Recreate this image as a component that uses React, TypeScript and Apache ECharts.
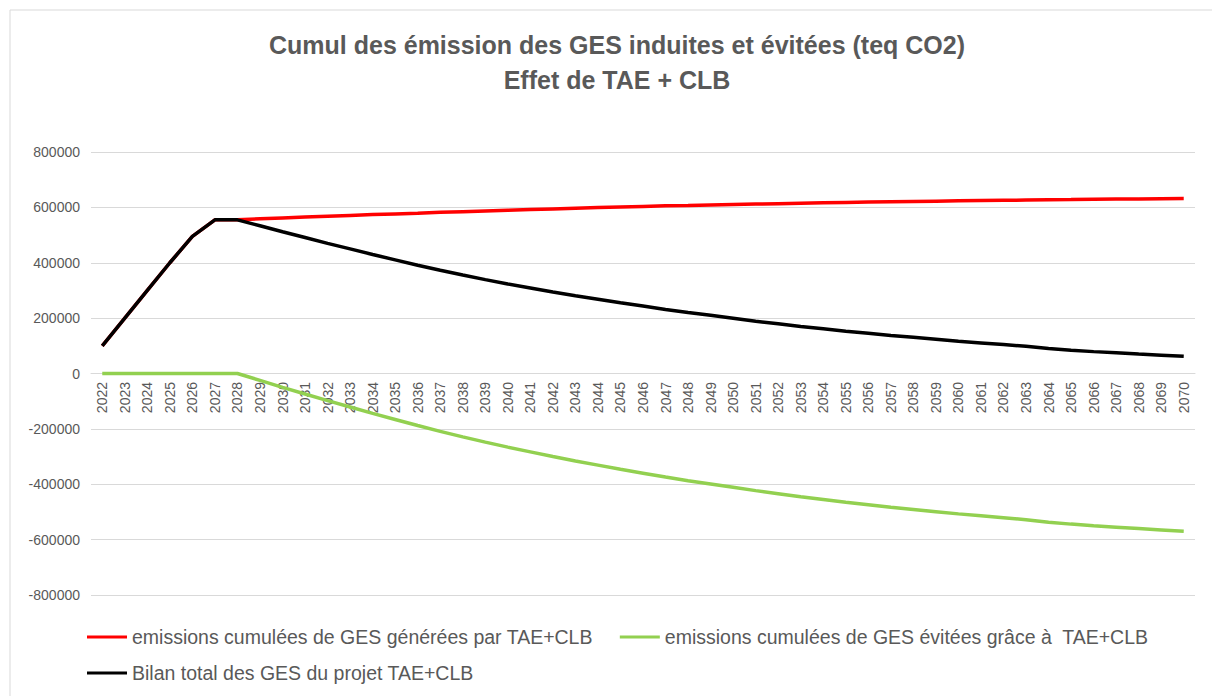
import React, { useEffect, useRef } from "react";
import * as echarts from "echarts";

const years: string[] = [
  "2022","2023","2024","2025","2026","2027","2028","2029","2030","2031",
  "2032","2033","2034","2035","2036","2037","2038","2039","2040","2041",
  "2042","2043","2044","2045","2046","2047","2048","2049","2050","2051",
  "2052","2053","2054","2055","2056","2057","2058","2059","2060","2061",
  "2062","2063","2064","2065","2066","2067","2068","2069","2070",
];

const generated: number[] = [
  100000, 200000, 300000, 400000, 495000, 555000, 555000, 558500, 562000, 565000,
  568000, 571000, 574000, 576500, 579000, 582000, 584500, 587000, 589500, 592000,
  594500, 597000, 599500, 601500, 603500, 605500, 607000, 609000, 610500, 612000,
  613500, 615000, 616500, 618000, 619500, 620500, 621500, 622500, 623500, 624500,
  625500, 626500, 627300, 628100, 629000, 629800, 630500, 631300, 632000,
];

const avoided: number[] = [
  0, 0, 0, 0, 0, 0, 0, -25000, -50000, -74000,
  -98000, -121000, -144000, -166000, -188000, -209000, -229000, -248000, -266000, -283000,
  -300000, -316000, -331000, -346000, -360000, -374000, -387000, -399000, -411000, -423000,
  -434000, -445000, -455000, -465000, -474000, -483000, -491000, -499000, -507000, -514000,
  -521000, -528000, -537000, -544000, -550000, -555000, -560000, -565000, -570000,
];

const balance: number[] = [
  100000, 200000, 300000, 400000, 495000, 555000, 555000, 533500, 512000, 491000,
  470000, 450000, 430000, 410500, 391000, 373000, 355500, 339000, 323500, 309000,
  294500, 281000, 268500, 255500, 243500, 231500, 220000, 210000, 199500, 189000,
  179500, 170000, 161500, 153000, 145500, 137500, 130500, 123500, 116500, 110500,
  104500, 98500, 90300, 84100, 79000, 74800, 70500, 66300, 62000,
];

const seriesNames: string[] = [
  "emissions cumulées de GES générées par TAE+CLB",
  "emissions cumulées de GES évitées grâce à  TAE+CLB",
  "Bilan total des GES du projet TAE+CLB",
];

const titleLines: string[] = [
  "Cumul des émission des GES induites et évitées (teq CO2)",
  "Effet de TAE + CLB",
];

const FONT = "Liberation Sans, Arial, sans-serif";
const GREY_TEXT = "#595959";
const GRID_LINE = "#D9D9D9";

export default function App() {
  const ref = useRef<HTMLDivElement>(null);

  useEffect(() => {
    if (!ref.current) return;
    const chart = echarts.init(ref.current, undefined, { renderer: "svg" });
    const legendText = { color: GREY_TEXT, fontSize: 19.5, fontFamily: FONT };
    chart.setOption({
      animation: false,
      backgroundColor: "#ffffff",
      title: {
        text: titleLines.join("\n"),
        left: 612,
        textAlign: "center",
        top: 22,
        textStyle: {
          color: GREY_TEXT,
          fontSize: 25,
          fontWeight: "bold",
          fontFamily: FONT,
          lineHeight: 35,
        },
      },
      graphic: [
        {
          type: "rect",
          shape: { x: 10, y: 10, width: 1220, height: 700 },
          style: { fill: "none", stroke: GRID_LINE, lineWidth: 1 },
          silent: true,
        },
      ],
      legend: [
        {
          data: [seriesNames[0], seriesNames[1]],
          left: 82,
          top: 622,
          itemWidth: 40,
          itemHeight: 3,
          itemGap: 27,
          icon: "rect",
          textStyle: legendText,
        },
        {
          data: [seriesNames[2]],
          left: 82,
          top: 658,
          itemWidth: 40,
          itemHeight: 3,
          icon: "rect",
          textStyle: legendText,
        },
      ],
      grid: { left: 91, right: 17, top: 152, bottom: 101, containLabel: false },
      xAxis: {
        type: "category",
        data: years,
        boundaryGap: true,
        position: "bottom",
        offset: -222,
        axisLine: { onZero: false, lineStyle: { color: GRID_LINE, width: 1 } },
        axisTick: { show: false },
        axisLabel: {
          interval: 0,
          rotate: 90,
          color: GREY_TEXT,
          fontSize: 14,
          fontFamily: FONT,
          margin: 9,
        },
        splitLine: { show: false },
      },
      yAxis: {
        type: "value",
        min: -800000,
        max: 800000,
        interval: 200000,
        axisLine: { show: false },
        axisTick: { show: false },
        axisLabel: {
          color: GREY_TEXT,
          fontSize: 14,
          fontFamily: FONT,
          margin: 11,
          formatter: (v: number) => String(v),
        },
        splitLine: { lineStyle: { color: GRID_LINE, width: 1 } },
      },
      series: [
        {
          name: seriesNames[0],
          type: "line",
          data: generated,
          symbol: "none",
          lineStyle: { color: "#FF0000", width: 3.5 },
          itemStyle: { color: "#FF0000" },
        },
        {
          name: seriesNames[1],
          type: "line",
          data: avoided,
          symbol: "none",
          lineStyle: { color: "#92D050", width: 3.5 },
          itemStyle: { color: "#92D050" },
        },
        {
          name: seriesNames[2],
          type: "line",
          data: balance,
          symbol: "none",
          lineStyle: { color: "#000000", width: 3.5 },
          itemStyle: { color: "#000000" },
        },
      ],
    });
    return () => chart.dispose();
  }, []);

  return (
    <div
      ref={ref}
      style={{ position: "fixed", left: 0, top: 0, width: 1212, height: 696 }}
    />
  );
}
